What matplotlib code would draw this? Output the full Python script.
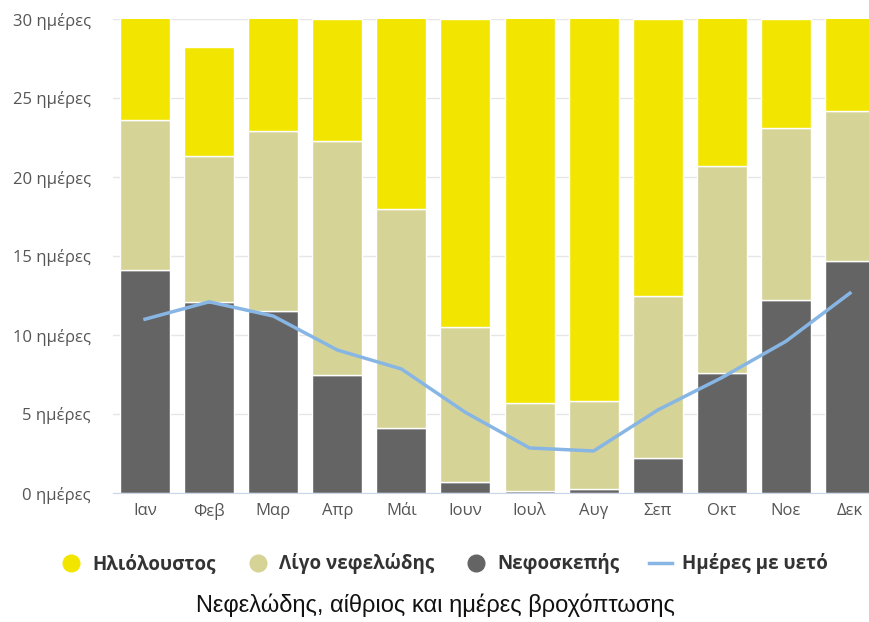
import numpy as np
import matplotlib.pyplot as plt
from matplotlib.lines import Line2D

months = ['Ιαν', 'Φεβ', 'Μαρ', 'Απρ', 'Μάι', 'Ιουν', 'Ιουλ', 'Αυγ', 'Σεπ', 'Οκτ', 'Νοε', 'Δεκ']
days_in_month = [31, 28.2, 31, 30, 31, 30, 31, 31, 30, 31, 30, 31]
overcast = [14.1, 12.1, 11.5, 7.5, 4.1, 0.7, 0.15, 0.25, 2.2, 7.6, 12.2, 14.7]
partly_cloudy = [9.5, 9.2, 11.4, 14.8, 13.9, 9.8, 5.55, 5.55, 10.3, 13.1, 10.9, 9.5]
rain_days = [11.0, 12.1, 11.2, 9.05, 7.85, 5.1, 2.85, 2.66, 5.25, 7.3, 9.6, 12.65]
ytick_vals = [0, 5, 10, 15, 20, 25, 30]

overcast = np.array(overcast)
partly_cloudy = np.array(partly_cloudy)
sunny = np.array(days_in_month) - overcast - partly_cloudy

C_SUN = '#f2e600'
C_PART = '#d6d396'
C_OVER = '#646464'
C_RAIN = '#88b6e4'

plt.rcParams['font.family'] = ['Open Sans', 'DejaVu Sans']

fig = plt.figure(figsize=(8.69, 6.22), dpi=100)
ax = fig.add_axes([113 / 869, 1 - 493 / 622, 769 / 869, 474 / 622])

x = np.arange(len(months))
w = 0.78
ax.bar(x, overcast, w, color=C_OVER, edgecolor='white', linewidth=1, zorder=2)
ax.bar(x, partly_cloudy, w, bottom=overcast, color=C_PART, edgecolor='white', linewidth=1, zorder=2)
ax.bar(x, sunny, w, bottom=overcast + partly_cloudy, color=C_SUN, edgecolor='white', linewidth=1, zorder=2)
ax.plot(x, rain_days, color=C_RAIN, linewidth=2.5, zorder=3, solid_joinstyle='round')

ax.set_xlim(-0.5, len(months) - 0.5)
ax.set_ylim(0, 30)
ax.set_yticks(ytick_vals)
ax.set_yticklabels([f'{v} ημέρες' for v in ytick_vals])
ax.set_xticks(x)
ax.set_xticklabels(months)
ax.tick_params(axis='both', length=0, labelsize=12, colors='#555555')
ax.tick_params(axis='x', pad=7)
ax.tick_params(axis='y', pad=16)
ax.grid(axis='y', color='#e6e6e6', linewidth=1, zorder=0)
ax.set_axisbelow(True)
for side in ['top', 'right', 'left']:
    ax.spines[side].set_visible(False)
ax.spines['bottom'].set_color('#ccd6eb')

handles = [
    Line2D([], [], marker='o', linestyle='none', markersize=12, color=C_SUN),
    Line2D([], [], marker='o', linestyle='none', markersize=12, color=C_PART),
    Line2D([], [], marker='o', linestyle='none', markersize=12, color=C_OVER),
    Line2D([], [], color=C_RAIN, linewidth=2.5),
]
labels = ['Ηλιόλουστος', 'Λίγο νεφελώδης', 'Νεφοσκεπής', 'Ημέρες με υετό']
fig.legend(handles, labels, loc='center', bbox_to_anchor=(444 / 869, 1 - 564 / 622),
           ncol=4, frameon=False, handlelength=1.2, handletextpad=0.55, columnspacing=1.6,
           prop={'weight': 'bold', 'size': 13.5}, labelcolor='#333333')

fig.text(435 / 869, 1 - 605 / 622, 'Νεφελώδης, αίθριος και ημέρες βροχόπτωσης',
         ha='center', va='center', fontsize=17, family='Liberation Sans', color='#111111')

fig.savefig('out.png', dpi=100)
